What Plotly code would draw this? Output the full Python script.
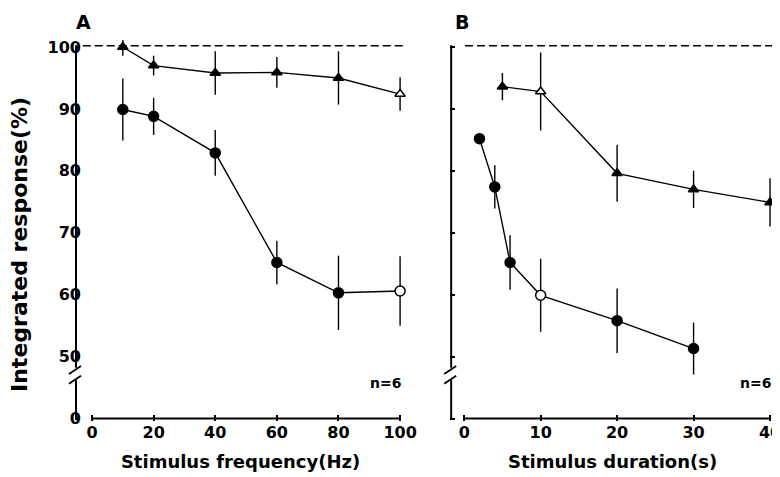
import plotly.graph_objects as go

# ---- data ----
freq_hz = [10, 20, 40, 60, 80, 100]
freq_tri = [100.0, 97.0, 95.8, 95.9, 95.0, 92.4]
freq_tri_err = [1.4, 1.6, 3.5, 2.5, 4.3, 2.7]
freq_tri_open = [False, False, False, False, False, True]
freq_circ = [89.9, 88.8, 82.9, 65.2, 60.3, 60.6]
freq_circ_err = [5.0, 3.0, 3.7, 3.5, 6.0, 5.6]
freq_circ_open = [False, False, False, False, False, True]

dur_tri_s = [5, 10, 20, 30, 40]
dur_tri = [93.6, 92.8, 79.6, 77.0, 74.9]
dur_tri_err = [2.2, 6.3, 4.6, 3.0, 3.9]
dur_tri_open = [False, True, False, False, False]
dur_circ_s = [2, 4, 6, 10, 20, 30]
dur_circ = [85.2, 77.4, 65.2, 59.9, 55.8, 51.3]
dur_circ_err = [0.0, 3.5, 4.4, 5.9, 5.2, 4.2]
dur_circ_open = [False, False, False, True, False, False]

# y axis with a break: plotted position 40 represents 0
y_tickvals = [40, 50, 60, 70, 80, 90, 100]
y_ticktext = ["0", "50", "60", "70", "80", "90", "100"]
freq_ticks = [0, 20, 40, 60, 80, 100]
dur_ticks = [0, 10, 20, 30, 40]

FONT = "DejaVu Sans"
BLACK = "black"
Y_LO, Y_HI = 39.6, 101.13

fig = go.Figure()


def add_series(x, y, err, open_flags, symbol, size, xa, ya):
    fills = ["white" if o else BLACK for o in open_flags]
    fig.add_trace(go.Scatter(
        x=x, y=y, xaxis=xa, yaxis=ya, mode="lines+markers",
        line=dict(color=BLACK, width=1.4),
        marker=dict(symbol=symbol, size=size, color=fills,
                    line=dict(color=BLACK, width=1.5)),
        error_y=dict(type="data", array=err, visible=True, width=0,
                     thickness=1.4, color=BLACK),
        showlegend=False, cliponaxis=False,
    ))


add_series(freq_hz, freq_tri, freq_tri_err, freq_tri_open, "triangle-up", 9, "x", "y")
add_series(freq_hz, freq_circ, freq_circ_err, freq_circ_open, "circle", 10, "x", "y")
add_series(dur_tri_s, dur_tri, dur_tri_err, dur_tri_open, "triangle-up", 9, "x2", "y2")
add_series(dur_circ_s, dur_circ, dur_circ_err, dur_circ_open, "circle", 10, "x2", "y2")

tickfont = dict(family=FONT, size=16, color=BLACK, weight="bold")
titlefont = dict(family=FONT, size=18, color=BLACK, weight="bold")

common_y = dict(range=[Y_LO, Y_HI], tickvals=y_tickvals, ticktext=y_ticktext,
                ticks="inside", ticklen=5, tickwidth=2, tickcolor=BLACK,
                showgrid=False, zeroline=False, showline=False, automargin=False,
                tickfont=tickfont, ticklabelstandoff=-7)
common_x = dict(ticks="inside", ticklen=6, tickwidth=2, tickcolor=BLACK,
                showgrid=False, zeroline=False, showline=False, automargin=False,
                ticklabeloverflow="allow", tickfont=tickfont)

# the page body adds an 8px offset; the figure is sized to compensate
fig.update_layout(
    width=772, height=469,
    margin=dict(l=67, r=5, t=32, b=56, autoexpand=False),
    paper_bgcolor="white", plot_bgcolor="white",
    font=dict(family=FONT, color=BLACK),
    xaxis=dict(domain=[0, 0.473], range=[-5.52, 101.95], tickvals=freq_ticks,
               title=dict(text="Stimulus frequency(Hz)", font=titlefont, standoff=14),
               anchor="y", **common_x),
    yaxis=dict(domain=[0, 1], anchor="x", **common_y),
    xaxis2=dict(domain=[0.536, 1.0], range=[-1.83, 40.65], tickvals=dur_ticks,
                title=dict(text="Stimulus duration(s)", font=titlefont, standoff=14),
                anchor="y2", **common_x),
    yaxis2=dict(domain=[0, 1], anchor="x2", showticklabels=False, **common_y),
)


def ydom(v):
    return (v - Y_LO) / (Y_HI - Y_LO)


shapes = []
for xa, ya, xmax, dash_x0, w in [("x", "y", 100, -3.0, 331), ("x2", "y2", 40, 0.1, 325)]:
    dref = xa + " domain"
    yd = ya + " domain"
    # x axis line
    shapes.append(dict(type="line", xref=xa, yref=yd, x0=0, x1=xmax, y0=ydom(40), y1=ydom(40),
                       line=dict(color=BLACK, width=2), layer="above"))
    # y axis line with break
    shapes.append(dict(type="line", xref=dref, yref=ya, x0=0.003, x1=0.003, y0=40, y1=46.2,
                       line=dict(color=BLACK, width=2)))
    shapes.append(dict(type="line", xref=dref, yref=ya, x0=0.003, x1=0.003, y0=48.2, y1=100.3,
                       line=dict(color=BLACK, width=2)))
    d = 6.0 / w
    for yb in (45.6, 47.2):
        shapes.append(dict(type="line", xref=dref, yref=ya, x0=-d, x1=d,
                           y0=yb, y1=yb + 1.3, line=dict(color=BLACK, width=1.8)))
    # 100 % reference line
    shapes.append(dict(type="line", xref=xa, yref=ya, x0=dash_x0, x1=xmax + 1,
                       y0=100.2, y1=100.2, line=dict(color=BLACK, width=1.4, dash="8px,4px")))

fig.update_layout(shapes=shapes)

annotations = [
    dict(text="<b>A</b>", xref="paper", yref="paper", x=8 / 700, y=1.048,
         xanchor="center", yanchor="middle",
         showarrow=False, font=dict(family=FONT, size=19, color=BLACK)),
    dict(text="<b>B</b>", xref="paper", yref="paper", x=387 / 700, y=1.048,
         xanchor="center", yanchor="middle",
         showarrow=False, font=dict(family=FONT, size=19, color=BLACK)),
    dict(text="<b>Integrated response(%)</b>", xref="paper", yref="paper",
         x=-55 / 700, y=0.462, xanchor="center", yanchor="middle", textangle=-90,
         showarrow=False, font=dict(family=FONT, size=22, color=BLACK)),
    dict(text="<b>n=6</b>", xref="x", yref="y", x=101, y=45.8, xanchor="right",
         showarrow=False, font=dict(family=FONT, size=14, color=BLACK)),
    dict(text="<b>n=6</b>", xref="x2", yref="y2", x=40.4, y=45.8, xanchor="right",
         showarrow=False, font=dict(family=FONT, size=14, color=BLACK)),
]
fig.update_layout(annotations=annotations)

fig.write_html("out.html")
